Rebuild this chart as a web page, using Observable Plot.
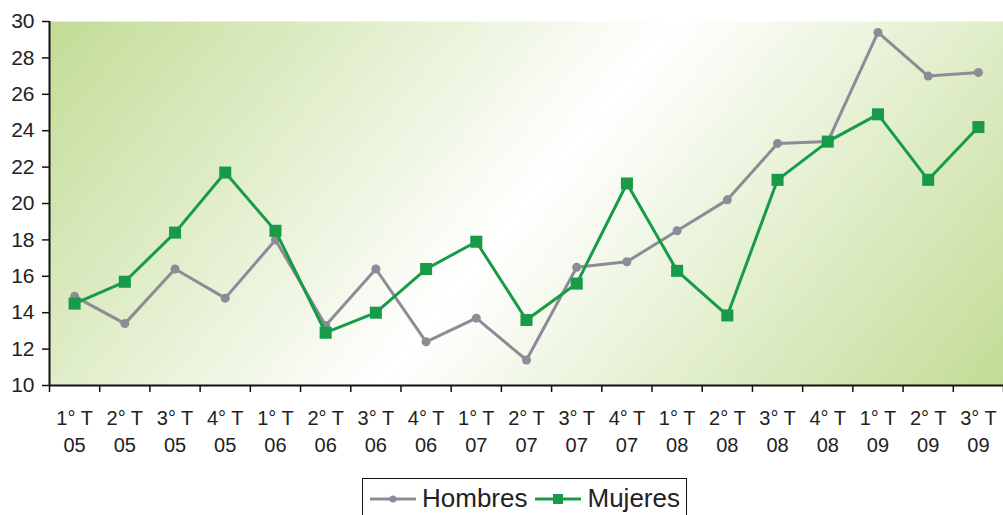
<!DOCTYPE html>
<html><head><meta charset="utf-8">
<script src="https://cdn.jsdelivr.net/npm/d3@7"></script>
<script src="https://cdn.jsdelivr.net/npm/@observablehq/plot@0.6"></script>
<style>
body{margin:0;background:#fff;font-family:"Liberation Sans",Arial,sans-serif;}
#wrap{position:relative;width:1003px;height:515px;overflow:hidden;background:#fff}
#legend{position:absolute;left:362px;top:478px;width:325px;height:46px;border:1.5px solid #111;box-sizing:border-box;display:flex;align-items:flex-start;padding-top:4px;padding-left:7px;font-size:26px;color:#222;background:#fff}
#legend .item{display:flex;align-items:center;margin-right:8px}
#legend svg{margin-right:6px}
</style></head>
<body><div id="wrap"><div id="chart"></div><div id="legend"></div></div>
<script>
const quarters = ["1° T","2° T","3° T","4° T","1° T","2° T","3° T","4° T","1° T","2° T","3° T","4° T","1° T","2° T","3° T","4° T","1° T","2° T","3° T"];
const years = ["05","05","05","05","06","06","06","06","07","07","07","07","08","08","08","08","09","09","09"];
const hombres = [14.9,13.4,16.4,14.8,18.0,13.3,16.4,12.4,13.7,11.4,16.5,16.8,18.5,20.2,23.3,23.4,29.4,27.0,27.2];
const mujeres = [14.5,15.7,18.4,21.7,18.5,12.9,14.0,16.4,17.9,13.6,15.6,21.1,16.3,13.85,21.3,23.4,24.9,21.3,24.2];
const yTicks = [10,12,14,16,18,20,22,24,26,28,30];
const series = ["Hombres","Mujeres"];
const colors = {Hombres:"#8c8c96", Mujeres:"#179b48"};

const W = 1003, H = 470, mL = 49, mR = 0, mT = 21, mB = 85;
const idx = quarters.map((_, i) => i);
const bounds = quarters.map((_, i) => i - 0.5).concat([quarters.length - 0.5]);

const chart = Plot.plot({
  width: W, height: H,
  marginLeft: mL, marginRight: mR, marginTop: mT, marginBottom: mB,
  style: {fontFamily: "Liberation Sans, Arial, sans-serif", color: "#222", background: "transparent"},
  x: {type: "linear", domain: [-0.5, quarters.length - 0.5]},
  y: {domain: [10, 30]},
  marks: [
    Plot.frame({fill: "url(#bg)", stroke: "none"}),
    Plot.axisY({ticks: yTicks, tickSize: 7, tickPadding: 8, fontSize: 21, label: null, stroke: "#111", strokeWidth: 1.5}),
    Plot.axisX({ticks: bounds, tickSize: 7, tickFormat: () => "", label: null, stroke: "#111", strokeWidth: 1.5}),
    Plot.axisX({ticks: idx, tickSize: 0, tickPadding: 20, tickFormat: i => quarters[i] + "\n" + years[i], fontSize: 20, lineHeight: 1.35, label: null}),
    Plot.ruleY([10], {stroke: "#111", strokeWidth: 2}),
    Plot.ruleX([-0.5], {stroke: "#111", strokeWidth: 2}),
    Plot.lineY(hombres, {x: (d, i) => i, y: d => d, stroke: colors.Hombres, strokeWidth: 3}),
    Plot.dot(hombres, {x: (d, i) => i, y: d => d, r: 4.5, fill: colors.Hombres}),
    Plot.lineY(mujeres, {x: (d, i) => i, y: d => d, stroke: colors.Mujeres, strokeWidth: 3}),
    Plot.dot(mujeres, {x: (d, i) => i, y: d => d, r: 6.8, symbol: "square", fill: colors.Mujeres})
  ]
});

// diagonal gradient background (green - white - green)
const cx = mL + (W - mL - mR) / 2, cy = mT + (H - mT - mB) / 2;
const ux = 0.772, uy = 0.636, half = 484;
const ns = "http://www.w3.org/2000/svg";
const defs = document.createElementNS(ns, "defs");
defs.innerHTML = `<linearGradient id="bg" gradientUnits="userSpaceOnUse" x1="${cx - ux*half}" y1="${cy - uy*half}" x2="${cx + ux*half}" y2="${cy + uy*half}">
<stop offset="0" stop-color="#c2dc95"/><stop offset="0.5" stop-color="#ffffff"/><stop offset="1" stop-color="#c2dc95"/></linearGradient>`;
chart.insertBefore(defs, chart.firstChild);
document.getElementById("chart").appendChild(chart);

// legend
const leg = document.getElementById("legend");
series.forEach(s => {
  const item = document.createElement("div");
  item.className = "item";
  const marker = s === "Hombres"
    ? `<circle cx="23" cy="10" r="3.5" fill="${colors[s]}"/>`
    : `<rect x="18" y="5" width="10" height="10" fill="${colors[s]}"/>`;
  item.innerHTML = `<svg width="46" height="20"><line x1="0" x2="46" y1="10" y2="10" stroke="${colors[s]}" stroke-width="3"/>${marker}</svg><span>${s}</span>`;
  leg.appendChild(item);
});
</script></body></html>
